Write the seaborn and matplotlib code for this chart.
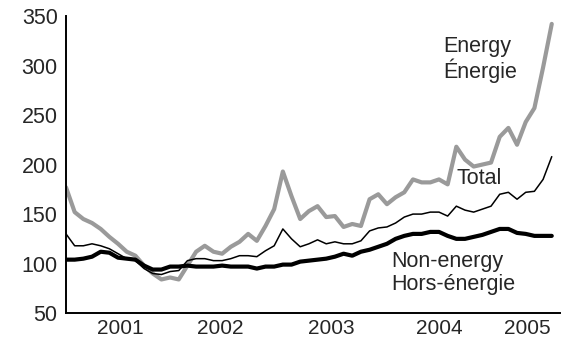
import numpy as np
import pandas as pd
import matplotlib
matplotlib.use("Agg")
import matplotlib.pyplot as plt
import seaborn as sns

# monthly index, Jan 2001 .. Sep 2005
months = pd.period_range("2001-01", "2005-09", freq="M")

energy = [177, 152, 145, 141, 135, 127, 120, 112, 108, 98, 90, 84,
          86, 84, 98, 112, 118, 112, 110, 117, 122, 130, 123, 138,
          155, 193, 168, 145, 153, 158, 147, 148, 137, 140, 138, 165,
          170, 160, 167, 172, 185, 182, 182, 185, 180, 218, 205, 198,
          200, 202, 228, 237, 220, 243, 257, 298, 342]

total = [130, 118, 118, 120, 118, 115, 110, 105, 103, 95, 90, 89,
         92, 93, 103, 105, 105, 103, 103, 105, 108, 108, 107, 113,
         118, 135, 125, 117, 120, 124, 120, 122, 120, 120, 123, 133,
         136, 137, 141, 147, 150, 150, 152, 152, 148, 158, 154, 152,
         155, 158, 170, 172, 165, 172, 173, 185, 208]

non_energy = [104, 104, 105, 107, 112, 111, 106, 105, 104, 98, 94, 94,
              97, 97, 98, 97, 97, 97, 98, 97, 97, 97, 95, 97,
              97, 99, 99, 102, 103, 104, 105, 107, 110, 108, 112, 114,
              117, 120, 125, 128, 130, 130, 132, 132, 128, 125, 125, 127,
              129, 132, 135, 135, 131, 130, 128, 128, 128]

year_labels = ["2001", "2002", "2003", "2004", "2005"]
y_ticks = [50, 100, 150, 200, 250, 300, 350]

df = pd.DataFrame({
    "m": np.arange(len(months)),
    "energy": energy,
    "total": total,
    "non_energy": non_energy,
})

sns.set_style("white")
plt.rcParams["font.family"] = ["Liberation Sans", "DejaVu Sans"]

fig = plt.figure(figsize=(5.67, 3.40), dpi=100)
ax = fig.add_axes([0.1164, 0.079, 0.872, 0.874])

sns.lineplot(data=df, x="m", y="energy", color="#9a9a9a", linewidth=3.0, ax=ax)
sns.lineplot(data=df, x="m", y="total", color="black", linewidth=1.1, ax=ax)
sns.lineplot(data=df, x="m", y="non_energy", color="black", linewidth=3.0, ax=ax)

ax.set_xlim(0, 57)
ax.set_ylim(50, 350)
ax.set_xlabel("")
ax.set_ylabel("")

for side in ["top", "right"]:
    ax.spines[side].set_visible(False)
for side in ["left", "bottom"]:
    ax.spines[side].set_color("black")
    ax.spines[side].set_linewidth(1.4)

ax.set_yticks(y_ticks)
ax.set_yticklabels([str(v) for v in y_ticks], fontsize=15.5)
ax.tick_params(axis="y", direction="in", length=6, width=1.4, color="black", pad=6)

# yearly ticks are longer, monthly ones short; year labels sit mid-year
ax.set_xticks([12, 24, 36, 48])
ax.set_xticklabels([])
ax.set_xticks(np.arange(1, 58), minor=True)
ax.tick_params(axis="x", which="major", direction="in", length=6, width=1.2, color="black")
ax.tick_params(axis="x", which="minor", direction="in", length=3.5, width=1.2, color="black")
for pos, lab in zip([6.3, 17.8, 30.6, 43.0, 53.2], year_labels):
    ax.text(pos, -0.0707, lab, transform=ax.get_xaxis_transform(),
            ha="center", va="baseline", fontsize=15)

ax.text(43.5, 306, "Energy\nÉnergie", ha="left", va="center", fontsize=15.5, linespacing=1.1)
ax.text(45.0, 186, "Total", ha="left", va="center", fontsize=15.5)
ax.text(37.5, 90.5, "Non-energy\nHors-énergie", ha="left", va="center", fontsize=15.5, linespacing=1.1)

fig.savefig("out.png", dpi=100)
